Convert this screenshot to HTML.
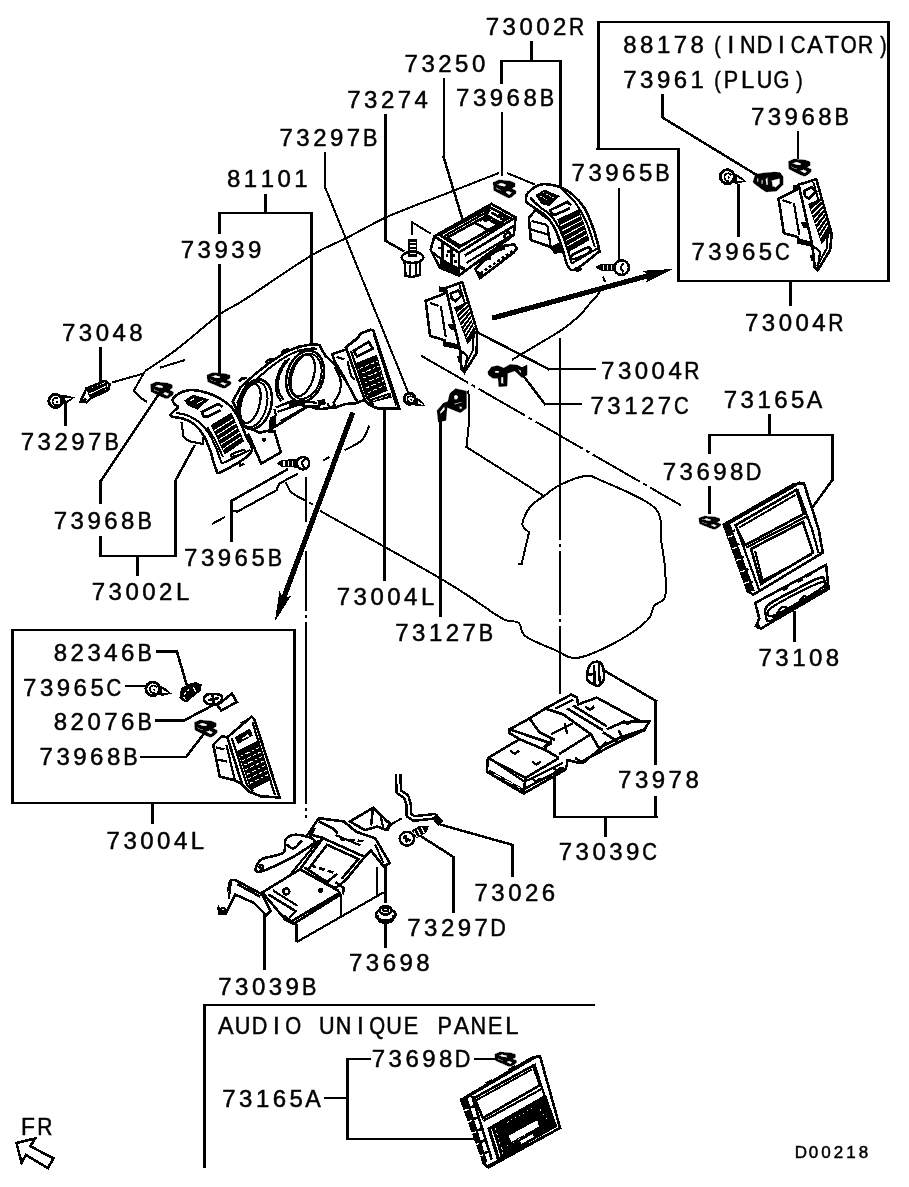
<!DOCTYPE html>
<html><head><meta charset="utf-8"><title>D00218</title>
<style>html,body{margin:0;padding:0;background:#fff}svg{display:block;filter:grayscale(1)}text{font-family:"Liberation Sans",sans-serif;fill:#000;text-anchor:middle;stroke:#000;stroke-width:0.5px}.k{stroke:#000;fill:none;stroke-width:2.6;stroke-linecap:butt;stroke-linejoin:miter}.m{stroke:#000;fill:none;stroke-width:2.2}.t{stroke:#000;fill:none;stroke-width:2}.w{fill:#fff}.b{fill:#000;stroke:none}</style></head><body>
<svg width="909" height="1187" viewBox="0 0 909 1187" shape-rendering="crispEdges">
<rect width="909" height="1187" fill="#fff"/>
<!-- 05_thin.py -->
<g id="thin"><path class="t" d="M145.0 371.0C150.2 367.5 163.6 359.3 175.9 350.0C188.2 340.7 207.5 323.3 218.8 315.0C230.2 306.7 228.6 309.9 244.0 300.0C259.4 290.1 293.9 266.0 311.2 255.6C328.4 245.2 334.7 244.0 347.5 237.5C360.3 231.0 372.6 223.4 388.0 216.5C403.4 209.6 421.5 203.2 440.0 196.0C458.5 188.8 489.0 176.8 498.8 173.0" />
<path class="t" d="M507 173L535 184.5" />
<path class="t" d="M145 371L133.7 390.8L141 398L147 402" />
<path class="t" d="M112 382.5L142 374" />
<path class="t" d="M160 367.7L185 360" />
<path class="t" d="M601.0 288.0C600.5 289.1 599.5 292.4 598.0 294.5C596.5 296.6 595.3 297.1 592.3 300.5C589.3 303.9 584.9 310.2 580.0 315.0C575.1 319.8 568.8 324.8 563.0 329.0C557.2 333.2 553.8 334.9 545.3 340.0C536.8 345.1 517.5 356.5 512.0 359.8" />
<path class="t" d="M421.3 355.8L680.8 505.2" stroke-dasharray="54 4 4 4"/>
<path class="t" d="M559.8 337.7L559.8 694" stroke-width="1.8" stroke-dasharray="202 4 3 4 64 4 3 4 200"/>
<path class="t" d="M306 477L306 521.8" />
<path class="t" d="M306 550.9L306 818" stroke-dasharray="60 4 3 4 182 4 3 4 6"/>
<path class="t" d="M465.6 446.5L543.9 496" />
<path class="t" d="M543.9 496.0C546.6 494.2 553.1 488.3 560.0 485.0C566.9 481.7 578.3 476.8 585.0 476.0C591.7 475.2 588.4 474.7 600.0 480.0C611.6 485.3 644.2 497.6 654.4 507.6C664.6 517.6 659.2 529.8 661.0 540.0C662.8 550.2 664.3 559.1 665.0 568.6C665.7 578.1 666.8 590.5 665.0 596.7C663.2 602.9 656.9 602.1 654.0 606.0C651.1 609.9 653.5 614.1 647.8 619.8C642.1 625.5 631.5 633.7 620.0 640.0C608.5 646.3 589.3 656.0 578.5 657.7C567.7 659.4 563.8 653.6 555.0 650.0C546.2 646.4 531.7 640.8 525.7 636.3C519.7 631.8 521.8 625.6 519.0 623.0C516.2 620.4 512.5 622.0 509.0 620.8C505.5 619.6 509.0 622.8 498.0 616.0C487.0 609.2 472.7 597.5 443.0 580.0C413.3 562.5 340.5 522.3 320.0 510.8" />
<path class="t" d="M543.9 496.0C541.6 497.8 533.6 502.3 530.0 507.0C526.4 511.7 522.6 519.8 522.4 524.0C522.2 528.2 527.9 530.9 529.0 532.3" />
<path class="t" d="M529 532.3L521.7 563.7L518 564" />
<path class="t" d="M468.4 390.5C468.5 395.4 469.3 410.6 469.0 420.0C468.7 429.4 466.9 442.2 466.5 446.6" />
<path class="t" d="M466.5 446.6L465.6 446.5" />
<path class="t" d="M285.8 482.2C286.7 483.8 288.4 489.3 291.0 492.0C293.6 494.7 299.8 497.5 301.6 498.6" />
<path class="t" d="M301.6 498.6L313.5 504.7" stroke-dasharray="5 3"/>
<path class="t" d="M211.9 524L225 517" />
<path class="t" d="M322.8 460.6L329.4 457" />
<path class="t" d="M369.3 425.6C368.1 428.0 366.1 435.9 362.0 440.0C357.9 444.1 347.4 448.7 344.5 450.4" /></g>
<!-- 10_leaders.svg -->
<g id="leaders" fill="#000" shape-rendering="crispEdges">
<rect x="264" y="194" width="3" height="20"/>
<rect x="218" y="212" width="3" height="22"/>
<rect x="218" y="212" width="95" height="2"/>
<rect x="310" y="212" width="3" height="134"/>
<rect x="218" y="264" width="3" height="109"/>
<rect x="99" y="347" width="3" height="36"/>
<rect x="64" y="403" width="3" height="23"/>
<line x1="158.6" y1="394.3" x2="100.7" y2="481.4" stroke="#000" stroke-width="2.5" stroke-linecap="square"/>
<rect x="99" y="480" width="3" height="24"/>
<rect x="99" y="536" width="3" height="21"/>
<rect x="99" y="555" width="77" height="2"/>
<rect x="174" y="480" width="3" height="77"/>
<line x1="175" y1="481.4" x2="194.3" y2="446" stroke="#000" stroke-width="2.5" stroke-linecap="square"/>
<rect x="136" y="555" width="3" height="21"/>
<rect x="230" y="500" width="3" height="42"/>
<line x1="231" y1="501.2" x2="287" y2="469.6" stroke="#000" stroke-width="2.5" stroke-linecap="square"/>
<rect x="324" y="152" width="2" height="37"/>
<line x1="325.4" y1="188" x2="408" y2="392" stroke="#000" stroke-width="2" stroke-linecap="square"/>
<rect x="384" y="114" width="3" height="128"/>
<line x1="385.5" y1="240.8" x2="403" y2="250.7" stroke="#000" stroke-width="2.5" stroke-linecap="square"/>
<rect x="443" y="78" width="2" height="81"/>
<line x1="443.6" y1="157" x2="462.4" y2="219.3" stroke="#000" stroke-width="2.5" stroke-linecap="square"/>
<rect x="530" y="41" width="3" height="21"/>
<rect x="500" y="60" width="3" height="24"/>
<rect x="500" y="60" width="62" height="2"/>
<rect x="559" y="60" width="3" height="127"/>
<rect x="501" y="112" width="2" height="64"/>
<rect x="618" y="188" width="2" height="73"/>
<rect x="597" y="21" width="3" height="129"/>
<rect x="597" y="21" width="293" height="2"/>
<rect x="887" y="21" width="3" height="261"/>
<rect x="677" y="280" width="213" height="2"/>
<rect x="677" y="148" width="3" height="134"/>
<rect x="596" y="148" width="84" height="2"/>
<rect x="789" y="280" width="3" height="26"/>
<rect x="661" y="94" width="3" height="24"/>
<line x1="662.4" y1="117.5" x2="755" y2="174" stroke="#000" stroke-width="2.5" stroke-linecap="square"/>
<rect x="797" y="131" width="2" height="28"/>
<rect x="737" y="184" width="3" height="53"/>
<line x1="477.3" y1="332.3" x2="548.3" y2="369" stroke="#000" stroke-width="2.5" stroke-linecap="square"/>
<rect x="547" y="368" width="49" height="2"/>
<line x1="522" y1="374" x2="545" y2="404.3" stroke="#000" stroke-width="2.5" stroke-linecap="square"/>
<rect x="544" y="403" width="38" height="2"/>
<rect x="768" y="414" width="3" height="22"/>
<rect x="708" y="434" width="3" height="20"/>
<rect x="708" y="434" width="126" height="2"/>
<rect x="831" y="434" width="3" height="47"/>
<line x1="832.4" y1="479.9" x2="812" y2="508" stroke="#000" stroke-width="2.5" stroke-linecap="square"/>
<rect x="708" y="486" width="3" height="28"/>
<rect x="793" y="611" width="3" height="31"/>
<rect x="383" y="407" width="3" height="174"/>
<rect x="439" y="414" width="3" height="203"/>
<line x1="601.6" y1="669" x2="656" y2="701" stroke="#000" stroke-width="2.5" stroke-linecap="square"/>
<rect x="654" y="700" width="3" height="65"/>
<rect x="654" y="796" width="3" height="22"/>
<rect x="553" y="816" width="105" height="2"/>
<rect x="553" y="771" width="3" height="47"/>
<rect x="604" y="816" width="3" height="21"/>
<line x1="441.5" y1="824.9" x2="512.9" y2="845" stroke="#000" stroke-width="2.5" stroke-linecap="square"/>
<rect x="511" y="844" width="3" height="33"/>
<line x1="420.6" y1="836" x2="453.5" y2="857" stroke="#000" stroke-width="2.5" stroke-linecap="square"/>
<rect x="452" y="856" width="3" height="57"/>
<rect x="384" y="919" width="3" height="29"/>
<rect x="263" y="909" width="3" height="61"/>
<rect x="11" y="629" width="285" height="2"/>
<rect x="293" y="629" width="3" height="175"/>
<rect x="11" y="802" width="285" height="2"/>
<rect x="11" y="629" width="3" height="175"/>
<rect x="151" y="802" width="3" height="22"/>
<rect x="203" y="1004" width="3" height="164"/>
<rect x="203" y="1004" width="392" height="2"/>
<rect x="324" y="1097" width="25" height="2"/>
<rect x="346" y="1058" width="25" height="2"/>
<rect x="346" y="1058" width="3" height="82"/>
<rect x="346" y="1138" width="133" height="2"/>
<rect x="474" y="1058" width="23" height="2"/>
</g>
<!-- 20_arrows.py -->
<g id="arrows"><path class="b" d="M492.8 320.7L647.5 278.6L645.6 282.9L672.9 269.0L642.3 270.8L646.2 273.6L491.4 315.7Z"/>
<path class="b" d="M350.4 411.5L281.8 595.4L279.4 591.3L274.8 621.6L291.1 595.7L286.7 597.2L355.2 413.3Z"/>
<path class="k" stroke-width="2.3" d="M16.5 1142.9L35.2 1138.5L30.3 1146.2L53.4 1158.3L47.9 1168.2L25.9 1155L21.5 1162.7Z"/></g>
<!-- 30_leftvent.py -->
<g id="leftvent"><path class="m w" d="M181.5 422.2L183.6 437.2L189.3 441.2L202.9 444.1L203.6 437.2" />
<path class="k w" d="M172.9 398.6C174.3 396.6 179.6 393.1 182.9 391.7C186.2 390.3 188.9 389.8 192.9 390.0C196.9 390.2 202.7 391.5 207.2 392.9C211.7 394.3 216.0 396.2 220.1 398.6C224.2 401.0 228.4 403.9 231.5 407.2C234.6 410.5 236.3 413.8 238.7 418.6C241.1 423.4 243.8 430.1 245.8 435.8C247.8 441.5 254.9 446.7 250.8 452.7C246.8 458.7 227.3 469.1 221.5 471.8C215.7 474.5 217.7 472.3 215.8 468.7C213.9 465.1 212.2 455.8 210.1 450.1C207.9 444.4 205.5 438.7 202.9 434.4C200.3 430.1 197.6 426.9 194.3 424.3C191.0 421.7 186.8 420.0 182.9 418.6C179.0 417.2 172.1 417.4 170.7 416.1C169.3 414.8 173.0 412.3 174.3 410.8C175.6 409.3 178.3 408.4 178.3 407.2C178.3 406.0 175.2 405.0 174.3 403.6C173.4 402.2 171.5 400.6 172.9 398.6Z" stroke-width="2.2"/>
<path class="m" d="M175.8 412.9C177.9 413.4 184.6 414.1 188.6 415.8C192.6 417.5 196.8 420.0 200.1 422.9C203.4 425.8 206.0 428.8 208.6 432.9C211.2 436.9 213.6 442.1 215.8 447.2C218.0 452.3 220.8 460.9 221.8 463.7" />
<path class="t" d="M221.8 463.7L250.1 450.1" />
<path class="t" d="M207.2 427.2C208.6 429.6 213.2 436.5 215.8 441.5C218.4 446.5 221.8 454.6 223.0 457.2" />
<path class="b" d="M210.8 425.1L231.5 412.6L244.1 441.2L224.7 454.7Z" />
<path class="" d="M214.4 430.7L233.5 418.8" stroke="#fff" stroke-width="1.1"/>
<path class="" d="M216.6 435.3L235.4 423.3" stroke="#fff" stroke-width="1.1"/>
<path class="" d="M218.8 439.9L237.4 427.8" stroke="#fff" stroke-width="1.1"/>
<path class="" d="M221 444.5L239.4 432.3" stroke="#fff" stroke-width="1.1"/>
<path class="" d="M223.2 449.1L241.3 436.7" stroke="#fff" stroke-width="1.1"/>
<path class="b" d="M184.1 400.7L192.9 394.6L208.9 399.3L197.9 409.8L188.6 406Z" />
<path class="" d="M190.1 400.7L194.3 398.6" stroke="#fff" stroke-width="1"/>
<path class="" d="M197.2 403.6L202.9 400.7" stroke="#fff" stroke-width="1"/>
<path class="k" d="M222.7 406.9L217.9 404L201.8 412.2L203.6 416.5L207.5 416.9L220.8 410.3" stroke-linejoin="round" stroke-width="2.6"/>
<path class="m" d="M231.5 454.4C233.2 453.3 240.9 450.4 243.0 450.1C245.1 449.8 245.8 451.6 244.1 452.7C242.4 453.8 235.1 456.4 233.0 456.7C230.9 457.0 229.8 455.5 231.5 454.4Z" />
<path class="m" d="M238.7 461.5L240.1 465.5L244.4 463.7" /></g>
<!-- 31_meter.py -->
<g id="meter"><path class="k w" d="M248.1 433.6L261.2 463.6L280.8 452.4L274.6 431.7L268.1 431.3" stroke-width="2.2"/>
<circle class="b" cx="264.3" cy="439.7" r="2.2"/>
<path class="k w" d="M232.7 401.5L240.4 387.4L255.8 373.5L271.2 361.5L286.6 351.6L298.9 346.7L311.2 344.5L319.3 344.9L325.1 355.3L335.9 365.8L348.2 384.3L357.8 403.1L345.1 404L335.9 407.4L318.9 409.2L308.2 406.2L275.8 426.2L268.1 430.8L258.9 432.8L249.6 427.4L240.4 416.6Z" stroke-width="2.2"/>
<path class="k" d="M239.2 381.5L241.9 378.4L246.6 378.1" />
<path class="k" d="M265.4 363L268.1 359.9L272.7 359.6" />
<path class="k" d="M281.5 353L284.3 349.9L288.9 349.6" />
<path class="k" d="M296.2 349.2L298.9 346.1L303.5 345.8" />
<path class="m" d="M289.7 358.1C288.4 359.9 283.9 365.0 282.0 368.9C280.1 372.8 278.6 377.3 278.1 381.2C277.6 385.1 278.0 388.9 278.9 392.0C279.8 395.1 282.7 398.4 283.5 399.7" />
<path class="m" d="M275.8 407.4C278.1 406.6 284.8 403.6 289.7 402.8C294.6 402.0 302.5 402.8 305.1 402.8" />
<ellipse class="k w" cx="305.1" cy="376.3" rx="18.2" ry="26.2" transform="rotate(17 305.1 376.3)" />
<ellipse class="t" cx="305.4" cy="376.3" rx="15.4" ry="23.1" transform="rotate(17 305.4 376.3)" />
<ellipse class="m" cx="302.8" cy="375.4" rx="10.8" ry="21.6" transform="rotate(17 302.8 375.4)" />
<ellipse class="k w" cx="255.0" cy="404.3" rx="16.2" ry="25.4" transform="rotate(15 255.0 404.3)" />
<ellipse class="t" cx="253.5" cy="404.6" rx="13.1" ry="23.1" transform="rotate(15 253.5 404.6)" />
<ellipse class="m" cx="250.4" cy="403.5" rx="9.2" ry="20.0" transform="rotate(15 250.4 403.5)" />
<path class="m" d="M285.8 360.4C284.6 362.3 280.6 368.0 278.9 372.0C277.2 376.0 276.1 380.4 275.8 384.3C275.6 388.2 276.5 392.3 277.4 395.1C278.3 397.9 280.6 400.2 281.2 401.2" />
<path class="b" d="M269.7 417.4L276.6 415.1L275.8 427.4L268.9 428.9Z" />
<path class="b" d="M289.7 402.8L297.4 401.2L294.3 407.4L288.9 408.9Z" />
<path class="b" d="M317.4 400.5L325.1 398.9L325.9 404.3L318.9 406.2Z" />
<path class="m" d="M237.0 403.5C238.2 401.3 240.8 394.4 244.3 390.1C247.8 385.8 253.4 381.9 258.1 377.8C262.8 373.8 267.5 369.5 272.4 365.8C277.3 362.1 282.9 358.3 287.4 355.8C291.9 353.3 295.2 351.9 299.2 350.7C303.2 349.5 308.2 348.9 311.2 348.6C314.2 348.3 316.4 348.8 317.4 348.9" />
<path class="m" d="M334.7 367.0C335.7 369.1 339.7 375.5 340.5 379.7C341.3 383.9 340.8 388.1 339.7 392.0C338.6 395.9 334.6 401.0 333.6 402.8" />
<path class="m" d="M275.8 407.4L292.8 400.5L317.4 402.8" />
<path class="m" d="M277.4 412L297.4 405.1L320.5 406.6" />
<path class="m" d="M271.2 427.4L275.8 415.1L274.3 408.9" />
<path class="t" d="M280.4 421.2L305.1 407.4" />
<rect class="b" x="319.7" y="399.7" width="4.5" height="4.5"/>
<path class="m" d="M327.4 403.5L329.7 407.4L335.1 405.8L332.8 401.5" /></g>
<!-- 32_vent4L.py -->
<g id="vent4L"><path class="k w" d="M346.8 349.2L332.3 354L334.7 361.3L343.2 375.8L357.7 402.4L364.9 400" stroke-width="2.2"/>
<path class="m" d="M336.5 356.7L344.4 359.5" />
<path class="m" d="M347.4 361.3L351 375.8L354.6 379.5" />
<path class="k" d="M364.9 400.0C365.7 400.9 367.6 403.7 369.8 405.1C372.0 406.5 376.8 407.9 378.2 408.5" stroke-width="2.2"/>
<path class="k w" d="M378.2 408.5L399.4 408.7L373.4 330.4L370.4 329.8L360.1 333.7L360.1 335.9L345.6 347.4L346.8 349.8L364.9 400" stroke-width="2.2"/>
<path class="k w" d="M378.2 408.5L399.4 408.7L373.4 330.4L370.4 329.8L360.1 333.7L357.7 338.3L345.6 347.4L346.8 349.8L364.9 400L369.8 405.1Z" stroke-width="2.2"/>
<path class="t" d="M374 335.3L396.4 405.5" />
<path class="m" d="M351 351L367.4 398.8L373.4 404.9" />
<path class="k" d="M354 350.7L368.6 341.9L372.8 348.6L357.1 356.7Z" stroke-linejoin="round" stroke-width="2.4"/>
<path class="b" d="M356.2 362.8L376.8 354.8L387.7 390.6L368.8 399.1Z" />
<path class="" d="M359.9 368.4L378.2 361.1" stroke="#fff" stroke-width="1" stroke-dasharray="3 2 5 2"/>
<path class="" d="M361.6 373.2L379.6 365.9" stroke="#fff" stroke-width="1" stroke-dasharray="3 2 5 2"/>
<path class="" d="M363.2 378.1L381 370.7" stroke="#fff" stroke-width="1" stroke-dasharray="3 2 5 2"/>
<path class="" d="M364.8 383L382.5 375.6" stroke="#fff" stroke-width="1" stroke-dasharray="3 2 5 2"/>
<path class="" d="M366.5 387.9L383.9 380.4" stroke="#fff" stroke-width="1" stroke-dasharray="3 2 5 2"/>
<path class="" d="M368.1 392.7L385.3 385.3" stroke="#fff" stroke-width="1" stroke-dasharray="3 2 5 2"/>
<path class="b" d="M369.8 399.4L390.3 392.5L391.6 397.6L371 402.7Z" />
<path class="" d="M373.4 400.6L387.9 395.8" stroke="#fff" stroke-width="0.9" stroke-dasharray="4 2"/></g>
<!-- 33_display.py -->
<g id="display"><path class="k w" d="M475.2 269L490.1 255.6L503.4 245.9L513.8 244.5L517.1 248.2L513.8 252.6L480 278.2Z" stroke-width="2.7"/>
<path class="k" d="M480.4 273.4L512.3 251.1" stroke-width="2.6" stroke-dasharray="3 2.2"/>
<path class="k" d="M487.1 254.1L504.9 248.2" />
<path class="b" d="M475.9 269.7L479.7 277.9L484.1 274.2Z" />
<path class="b" d="M484.1 260.1L490.1 254.9L491.5 260.1Z" />
<path class="k w" d="M434.4 236.3L491.5 203.9L515.6 217.3L513.8 234.8L458.9 275.6L439.6 267.5L430.6 249.7Z" stroke-width="2.7"/>
<path class="k" d="M434.4 236.3L458.9 252.6L515.6 217.3" stroke-width="3"/>
<path class="k" d="M458.9 252.6L458.9 275.6" stroke-width="2.7"/>
<path class="m" d="M442.5 242.2L442.5 267.5" />
<path class="m" d="M432.1 251.9L442.5 260.1L458.9 269" />
<path class="m" d="M451.4 248.2L451.4 271.9" />
<path class="b" d="M439.6 258.6L439.6 267.5L458.9 275.6L458.9 267.5L444 260.1Z" />
<path class="b" d="M460.3 269L464.8 271.2L464.8 267.5L460.3 265.3Z" />
<path class="k" d="M439.6 234.8L490.1 207.3L509.4 217.7L458.9 247.4Z" stroke-width="2.7"/>
<path class="k" d="M447 237.8L487.1 215.5L501.9 223.7L460.3 245.9Z" stroke-width="2.2"/>
<path class="m" d="M444 236.3L488.6 211" />
<path class="k" d="M475.2 222.9L488.6 230.3" />
<path class="k" d="M484.1 217L499 225.2" />
<path class="k" d="M490.1 209.6L484.1 217L479.7 221.4" stroke-width="3"/>
<path class="b" d="M480.4 219.2L485.6 222.2L490.1 219.2L485.6 216.2Z" />
<path class="k" d="M491.5 212.5L499 217L504.9 214.8L503.4 220.7" />
<path class="k" d="M499 214L501.9 220" />
<path class="k" d="M464.8 255.6L513.8 225.9" />
<path class="m" d="M466.3 263L512.3 234.8" />
<path class="m" d="M472.2 266L499 249.7" />
<rect class="b" x="464.1" y="242.2" width="2.6" height="2.6"/>
<rect class="b" x="478.9" y="233.6" width="2.6" height="2.6"/>
<rect class="b" x="438.1" y="246.7" width="2.6" height="2.6"/>
<rect class="b" x="447.0" y="250.4" width="2.6" height="2.6"/>
<rect class="b" x="452.2" y="254.1" width="2.6" height="2.6"/>
<rect class="b" x="504.2" y="217.0" width="2.6" height="2.6"/>
<rect class="b" x="454.4" y="260.1" width="2.6" height="2.6"/>
<rect class="b" x="445.5" y="254.1" width="2.6" height="2.6"/>
<path class="k" d="M504.9 234.8C505.5 233.6 508.6 232.1 509.4 232.6C510.2 233.1 510.3 236.6 509.7 237.8C509.1 239.0 506.4 240.5 505.6 240.0C504.8 239.5 504.3 236.0 504.9 234.8Z" />
<path class="k w" d="M404.7 261.5L405.4 275.6L412.1 277.1L420 274.9L420.2 261.5Z" stroke-width="2.7"/>
<path class="m" d="M409.9 264.5L410.1 276.4" />
<path class="m" d="M415.8 264.2L415.8 276.1" />
<ellipse class="k w" cx="412.5" cy="257.4" rx="10.8" ry="5.6" stroke-width="2.7"/>
<path class="b" d="M407.6 239.3L417.3 239.3L417.3 256.8L407.6 256.8Z" />
<path class="" d="M409.9 242.2L415.5 242.2" stroke="#fff" stroke-width="1.2"/>
<path class="" d="M409.9 245.9L415.5 245.9" stroke="#fff" stroke-width="1.2"/>
<path class="" d="M409.9 249.7L415.5 249.7" stroke="#fff" stroke-width="1.2"/>
<path class="" d="M409.9 253.4L415.5 253.4" stroke="#fff" stroke-width="1.2"/>
<path class="t" d="M412.1 234.8L412.1 222.2L430.6 233.6" /></g>
<!-- 34_vent2R.py -->
<g id="vent2R"><path class="k w" d="M535.6 209.9L528.8 218.1L530.8 240.1L550.8 247L554.9 252.5L564.5 251.1L556.3 225Z" stroke-width="2.7"/>
<path class="m" d="M531.5 220.9L547.3 225" />
<path class="m" d="M530.1 229.1L548 234.6" />
<path class="m" d="M547.3 225L550.8 247" />
<path class="b" d="M550.8 247L554.9 252.5L564.5 251.1L560.4 241.5Z" />
<path class="k w" d="M526.0 199.6C526.1 197.9 525.6 195.2 528.1 192.7C530.6 190.2 535.7 185.3 541.1 184.4C546.5 183.5 555.1 185.5 560.4 187.2C565.7 188.9 568.9 191.5 572.8 194.8C576.7 198.1 580.6 202.1 583.8 207.1C587.0 212.1 589.4 217.9 592.0 225.0C594.6 232.1 598.3 245.2 599.2 249.8C600.1 254.4 601.5 249.6 597.5 252.8C593.5 256.1 580.4 267.1 575.5 269.3C570.6 271.6 570.0 269.3 567.9 266.3C565.8 263.3 565.0 256.8 563.1 251.1C561.2 245.4 558.8 237.4 556.3 231.9C553.8 226.4 551.5 222.0 548.0 218.1C544.5 214.2 539.0 211.0 535.6 208.5C532.2 206.0 529.0 204.5 527.4 203.0C525.8 201.5 525.9 201.3 526.0 199.6Z" stroke-width="2.7"/>
<path class="m" d="M530.1 197.5C531.5 198.9 535.0 202.8 538.4 205.8C541.8 208.8 547.4 211.7 550.8 215.4C554.2 219.1 556.5 223.0 559.0 227.8C561.5 232.6 563.8 238.4 565.9 244.3C568.0 250.2 570.7 260.3 571.7 263.5" />
<path class="t" d="M571.7 263.5L597.5 248.4" />
<path class="t" d="M561.8 188.6C564.1 191.0 571.4 197.4 575.5 203.0C579.6 208.6 583.3 215.0 586.5 222.3C589.7 229.6 593.4 242.9 594.8 247.0" />
<path class="b" d="M557.4 219.5L578.9 208.9L589.5 240.1L568.6 252.1Z" />
<path class="" d="M560.5 225.6L580.2 215.6" stroke="#fff" stroke-width="1.1"/>
<path class="" d="M562.3 230.7L581.9 220.4" stroke="#fff" stroke-width="1.1"/>
<path class="" d="M564 235.7L583.6 225.1" stroke="#fff" stroke-width="1.1"/>
<path class="" d="M565.8 240.8L585.2 229.9" stroke="#fff" stroke-width="1.1"/>
<path class="" d="M567.6 245.8L586.9 234.7" stroke="#fff" stroke-width="1.1"/>
<path class="b" d="M535.4 194.8L544.6 189.7L560 196.1L549.4 206L541.1 204Z" />
<path class="" d="M539.8 196.1L546.6 199.6" stroke="#fff" stroke-width="0.9" stroke-dasharray="2 1.5"/>
<path class="" d="M542.5 192.7L553.5 197.5" stroke="#fff" stroke-width="0.9" stroke-dasharray="2 1.5"/>
<path class="k" d="M571.1 205.1L567.3 201.9L550.1 210.2L551.9 214.3L555.6 214.7L570 208.2" stroke-linejoin="round" stroke-width="2.6"/>
<path class="k" d="M571.7 255.5C574.0 253.6 584.9 248.2 587.9 247.7C590.9 247.1 591.8 250.3 589.5 252.2C587.2 254.1 577.4 258.6 574.4 259.1C571.4 259.7 569.5 257.4 571.7 255.5Z" />
<path class="m" d="M575.5 266.9L576.9 271.1L580.7 269.3L579.6 266.3" />
<path class="b" d="M594.8 266.9L601.6 263.5L616.8 263.5L616.8 271.5L601.6 271.1Z" />
<path class="" d="M603 264.9L603 270.1" stroke="#fff" stroke-width="0.9"/>
<path class="" d="M607.1 264.9L607.1 270.1" stroke="#fff" stroke-width="0.9"/>
<path class="" d="M611.3 264.9L611.3 270.1" stroke="#fff" stroke-width="0.9"/>
<circle class="k w" cx="621.6" cy="267.6" r="7.3" stroke-width="2.7"/>
<path class="m" d="M623.6 263.5C623.1 264.2 620.9 266.1 620.9 267.6C620.9 269.1 623.1 271.6 623.6 272.4" />
<path class="t" d="M603 276.6L605.1 282.1" /></g>
<!-- 35_vent4R.py -->
<g id="vent4R"><path class="k w" d="M442.9 294.3L425.7 300.8L430 335.9L444.4 340.2L444.4 345.2L460.8 348.7L447.2 290Z" stroke-width="2.7"/>
<path class="m" d="M430 302.9L438.6 305.8" />
<path class="m" d="M440.8 305.8L445.8 337.3" />
<path class="b" d="M443.6 340.9L444.4 345.2L460.4 348.5L458.7 344.4Z" />
<path class="b" d="M438.6 286L445.8 287.9L444.4 292.9L439.3 291.5Z" />
<path class="b" d="M447.9 324.4L452.9 324.4L454.4 330.1L450.1 329.4Z" />
<path class="b" d="M457.2 355.9L461.3 355.9L461.8 363.1L458 362.3Z" />
<path class="k w" d="M445.8 287.9L462.3 282.2L477.3 331.6L476.6 353L464.4 372.4L461.5 368.8L460.1 350.2Z" stroke-width="2.7"/>
<path class="t" d="M459.4 285L473.7 333L473 350.2L463.7 368.8" />
<path class="m" d="M460.1 350.2L467.3 355.9L465.1 370.2" />
<path class="k" d="M450.8 293.6L458 290.5L461.8 295.5L455.5 301.1L451.8 298.6Z" stroke-linejoin="round"/>
<path class="b" d="M454.1 307.5L466.5 301.9L476.1 333L467.6 344.7Z" />
<path class="" d="M457.1 313.5L467.2 304.3" stroke="#fff" stroke-width="1.2"/>
<path class="" d="M458.6 317.6L468.4 307.8" stroke="#fff" stroke-width="1.2"/>
<path class="" d="M460.2 321.7L469.5 311.2" stroke="#fff" stroke-width="1.2"/>
<path class="" d="M461.8 325.8L470.6 314.7" stroke="#fff" stroke-width="1.2"/>
<path class="" d="M463.3 329.9L471.8 318.2" stroke="#fff" stroke-width="1.2"/>
<path class="" d="M464.9 334.1L472.9 321.7" stroke="#fff" stroke-width="1.2"/>
<path class="" d="M466.4 338.2L474 325.2" stroke="#fff" stroke-width="1.2"/>
<path d="M488.1 371.9L491.7 367.1L497.8 365.9L503.8 368.3L509.9 364.7L517.1 365.3L522 367.7L526.8 365.3L526.8 375L522 377.4L514.7 370.7L507.4 373.2L506.8 385.9L499 386.5L498.4 378L492.9 378L488.7 375ZM494.7 370.5L499.2 370.5L499.2 373.2L494.7 373.2ZM500.8 376.8L503.5 376.8L503.5 383.6L500.8 383.6ZM517.4 368.6L521.5 370.7L521 374.1Z" fill="#000" fill-rule="evenodd" stroke="#000" stroke-width="0.8" stroke-linejoin="round"/>
<path d="M437.3 410.7L443.3 403.4L448.2 401.6L450 393.7L455.4 388.9L466.3 391.3L466.3 408.2L460.3 412.5L454.2 410.1L446.9 407L445.7 420.3L438.5 421.6ZM453.6 396.1L456 394.3L458.7 396.7L457.2 399.8L454.2 399.5ZM459.4 406.4L462.1 406.4L462.1 409.1L459.4 409.1ZM439.7 411.9L444.5 405.8L445.1 409.5L440.3 414.5ZM439.7 417.9L442.1 417.9L442.1 420.3L439.7 420.3ZM454.2 403.4L461.5 401.6L461.7 402.8L454.8 404.9Z" fill="#000" fill-rule="evenodd" stroke="#000" stroke-width="0.8" stroke-linejoin="round"/></g>
<!-- 36_boxR.py -->
<g id="boxR"><path class="k w" d="M793.2 191.6L778.5 198.5L783.9 233.2L797.8 237L797.8 242.4L812.9 245.8L800.1 187Z" stroke-width="2.7"/>
<path class="m" d="M782.4 200.1L791.6 203.1" />
<path class="m" d="M793.9 203.1L799.3 234.7" />
<path class="b" d="M797 237.8L797.8 242.4L812.9 245.8L810.9 241.6Z" />
<path class="b" d="M792.4 184.7L799 185.7L797.8 190.8L793.2 190.4Z" />
<path class="b" d="M800.9 222.4L806.3 222.4L807.8 228.5L803.2 227.8Z" />
<path class="b" d="M810.1 254.7L813.5 254.7L814.1 261.7L810.9 260.9Z" />
<path class="k w" d="M798.6 184.7L816.3 179.3L831.7 233.9L830.1 250.1L817.8 270.1L814.7 267L812.4 245.5Z" stroke-width="2.7"/>
<path class="t" d="M813.2 181.6L827.8 234.7L826.6 248.6L817 266.3" />
<path class="m" d="M812.4 245.5L820.1 251.6L817.8 268.6" />
<path class="k" d="M803.9 190.8L811.6 187.4L815.8 191.6L808.9 198.8L805 196.2Z" stroke-linejoin="round"/>
<path class="b" d="M808.3 203.9L820.9 198.2L830.4 233.2L821.7 244.3Z" />
<path class="" d="M811.1 210.3L821.4 200.9" stroke="#fff" stroke-width="1.2"/>
<path class="" d="M812.6 214.8L822.5 204.9" stroke="#fff" stroke-width="1.2"/>
<path class="" d="M814.2 219.4L823.7 208.8" stroke="#fff" stroke-width="1.2"/>
<path class="" d="M815.8 223.9L824.8 212.8" stroke="#fff" stroke-width="1.2"/>
<path class="" d="M817.4 228.5L826 216.7" stroke="#fff" stroke-width="1.2"/>
<path class="" d="M819 233L827.1 220.7" stroke="#fff" stroke-width="1.2"/>
<path class="" d="M820.5 237.6L828.2 224.6" stroke="#fff" stroke-width="1.2"/></g>
<!-- 37_panel.py -->
<g id="panel"><path class="k w" d="M723.8 524.5L794 484.1L803.9 483.3L811.3 506.4L818.7 529.5L822.8 552.6L753.5 594.6L747.8 591.3Z" stroke-width="2.7"/>
<path class="b" d="M722.7 524.8L729.9 522.9L739.5 549.3L754.7 590.5L748.1 591.8Z" />
<path class="" d="M727.6 537.4L732.6 535.7" stroke="#fff" stroke-width="1.2"/>
<path class="" d="M731.7 548.9L736.7 547.3" stroke="#fff" stroke-width="1.2"/>
<path class="" d="M735.9 560.5L740.8 558.8" stroke="#fff" stroke-width="1.2"/>
<path class="" d="M740 572L745 570.4" stroke="#fff" stroke-width="1.2"/>
<path class="" d="M744.1 583.6L749.1 581.9" stroke="#fff" stroke-width="1.2"/>
<path class="m" d="M735.4 524.5L759 589.7" />
<path class="m" d="M730.9 531.8L734.9 530.4" />
<path class="m" d="M735.5 545L739.5 543.6" />
<path class="m" d="M740.2 558.2L744.1 556.8" />
<path class="m" d="M744.6 570.5L748.6 569.2" />
<path class="m" d="M749.1 582.9L753 581.6" />
<path class="t" d="M728.8 523.7L795.6 485.7" />
<path class="m" d="M797.3 489L812.1 529.5L818.7 553.4" />
<path class="k" d="M749.4 509.7L756 506" stroke-width="3.5"/>
<path class="k" d="M770.9 497.3L777.5 493.6" stroke-width="3.5"/>
<path class="k" d="M794 485.7L800.6 482.1" stroke-width="3.5"/>
<path class="k" d="M735.4 525.3L796.4 489.9L803.9 513.8L745.3 545.1Z" stroke-width="2.7"/>
<path class="t" d="M738.7 527.8L795.6 494.8" />
<path class="m" d="M746.1 547.6L805.5 517.1L808.8 518.2" />
<path class="k" d="M751.1 548.9L803 522L812.9 552.6L761 583.9Z" stroke-width="2.7"/>
<path class="m" d="M755.2 550.9L762.6 580.6" />
<path class="t" d="M762.6 580.6L812.1 554.2" />
<path class="k w" d="M755.2 602.9L826.1 564.9L828.6 588.9L761 628.5L756 626L759.3 618.6Z" stroke-width="2.7"/>
<path class="k" d="M767.6 605.4C772.0 601.4 783.8 595.8 792.3 591.3C800.8 586.8 813.3 579.9 818.7 578.1C824.1 576.3 823.7 578.5 824.5 580.6C825.3 582.7 828.2 586.2 823.7 590.5C819.2 594.8 806.1 601.1 797.3 606.2C788.5 611.3 776.1 619.5 770.9 621.0C765.7 622.5 766.4 617.9 765.9 615.3C765.4 612.7 763.2 609.4 767.6 605.4Z" stroke-width="2.7"/>
<path class="m" d="M772.5 607.0C779.9 601.6 810.7 586.1 818.7 583.1C826.7 580.1 827.8 583.5 820.4 588.9C813.0 594.3 782.2 612.3 774.2 615.3C766.2 618.3 765.1 612.4 772.5 607.0Z" />
<path class="k" d="M772.5 618.2L824 589.7" stroke-width="4"/>
<path class="k" d="M782.4 590.2L788.2 587.2" stroke-width="3"/>
<path class="k" d="M797.3 581.9L803 579" stroke-width="3"/>
<path class="k" d="M805.5 577L811.3 574" stroke-width="3"/>
<circle class="b" cx="757.7" cy="626.5" r="2.3"/>
<path class="m" d="M775.8 615.3C776.9 613.9 780.2 608.1 782.4 607.0C784.6 605.9 787.9 608.4 789.0 608.7" />
<path class="m" d="M798.9 602.1C799.7 601.1 802.2 597.0 803.9 596.3C805.5 595.6 808.0 597.6 808.8 597.9" /></g>
<!-- 38_brkC.py -->
<g id="brkC"><path class="k w" d="M487.9 758L519.6 739.2L509.7 733.2L509.7 729.3L529.5 718.4L545.3 708.5L571.1 694.6L577 697.6L578 704.5L596.8 697.6L640.4 721.3L649.3 721.3L644.4 730.2L618.6 742.1L579 762.9L567.1 760L567.1 764.9L565.1 769.9L523.6 793.6L486.9 771.8Z" stroke-width="2.7"/>
<path class="k" d="M487.9 758L525.5 777.8L559.2 758" stroke-width="2.7"/>
<path class="k" d="M525.5 777.8L523.6 793.6" />
<path class="k" d="M519.6 739.2L545.3 750L559.2 758" />
<path class="m" d="M491.9 760L524.6 781.7L563.2 762.9" />
<path class="k" d="M488.9 770.8L522.6 789.7L564.2 767.9" stroke-width="3"/>
<path class="" d="M493.9 773.8L519.6 787.7" stroke="#fff" stroke-width="1" stroke-dasharray="8 5"/>
<path class="k" d="M509.7 729.3L529.5 736.2L547.3 742.1L545.3 750" />
<path class="k" d="M529.5 718.4L539.4 732.2L555.2 740.1" />
<path class="k" d="M545.3 708.5L563.2 714.4L590.9 734.2L559.2 754" />
<path class="m" d="M555.2 708.5L573.1 699.6" />
<path class="k" d="M567.1 708.5L602.8 730.2" stroke-width="2.7"/>
<path class="k" d="M573.1 705.5L606.7 726.3" />
<path class="m" d="M551.3 734.2L573.1 723.3" />
<path class="m" d="M565.1 723.3L567.1 734.2" />
<path class="k" d="M543.4 747.1L550.3 744.1L551.3 738.2" />
<path class="k" d="M606.7 729.3L622.6 722.3L640.4 721.3" />
<path class="k" d="M602.8 732.2L618.6 742.1" />
<path class="k" d="M590.9 734.2L598.8 748.1L618.6 738.2L644.4 729.3" />
<path class="k" d="M575 758L583 762.9L598.8 750L606.7 742.1" stroke-width="3"/>
<path class="k" d="M618.6 730.2L622.6 738.2L630.5 734.2" />
<path class="k" d="M510.3 750.4C511.0 750.9 513.2 753.6 514.7 753.6C516.2 753.6 518.3 750.9 519.0 750.4" />
<path class="k" d="M532.1 761.3C532.8 761.8 535.0 764.5 536.4 764.5C537.8 764.5 540.1 761.8 540.8 761.3" />
<path class="k" d="M585.5 706.5C586.2 707.0 588.4 709.7 589.9 709.7C591.4 709.7 593.6 707.0 594.3 706.5" />
<path class="k" d="M623.2 720.7C623.9 721.2 626.0 723.9 627.5 723.9C629.0 723.9 631.2 721.2 631.9 720.7" />
<path class="k" d="M552.9 767.3C553.6 767.8 555.8 770.4 557.2 770.4C558.7 770.4 560.9 767.8 561.6 767.3" />
<path class="k" d="M532.1 778.2C532.8 778.7 535.0 781.3 536.4 781.3C537.8 781.3 540.1 778.7 540.8 778.2" />
<path class="k w" d="M590.9 663.9C592.9 661.8 596.8 661.4 598.8 661.9C600.8 662.4 602.0 664.1 602.8 666.9C603.6 669.7 604.5 675.7 603.8 678.8C603.1 681.9 600.4 684.7 598.8 685.7C597.1 686.7 595.7 685.5 593.9 684.7C592.1 683.9 589.1 682.4 587.9 680.7C586.7 679.1 586.4 677.6 586.9 674.8C587.4 672.0 588.9 666.0 590.9 663.9Z" stroke-width="2.7"/>
<path class="k" d="M593.9 664.9L594.9 684.7" />
<path class="k" d="M587.9 674.8L593.9 673.8" />
<path class="m" d="M598.8 662.9L599.8 684.7" /></g>
<!-- 39_brkB.py -->
<g id="brkB"><path class="k" d="M264.3 913.3L264.3 936.3" />
<path class="k" d="M296.7 923.8L296.7 942" />
<path class="m" d="M340.6 894.5L340.6 916.5" />
<path class="m" d="M377.2 867.3L377.2 895.6" />
<path class="k" d="M385.2 866.3L385.2 902.9" />
<path class="m" d="M296.7 942L383.5 892.4" />
<path class="k" d="M218.4 907.1C219.8 905.7 224.8 902.9 226.7 898.7C228.6 894.5 228.5 885.1 229.9 882.0C231.3 878.9 234.2 880.2 235.1 879.9" stroke-width="2.7"/>
<path class="k w" d="M235.1 879.9L262.3 894.5L270.6 911.2L266.4 915.4L253.9 902.9L235.1 894.5L230.9 902.9L225.7 913.3L219.4 913.3L218.4 907.1" stroke-width="2.7"/>
<path class="m" d="M230.9 882L228.8 898.7" />
<path class="k" d="M237.2 884.1L260.2 896.6" stroke-width="3"/>
<circle class="m" cx="223.0" cy="909.6" r="2"/>
<path class="k w" d="M256.0 867.3C256.9 865.2 257.8 861.4 262.3 859.0C266.8 856.6 279.4 855.8 283.2 852.7C287.0 849.6 283.6 843.2 285.3 840.2C287.0 837.2 289.8 835.4 293.6 834.9C297.4 834.4 304.7 835.8 308.2 837.0C311.7 838.2 315.9 839.7 314.5 842.3C313.1 844.9 304.1 849.9 299.9 852.7C295.7 855.5 295.3 856.0 289.4 859.0C283.5 862.0 269.7 868.4 264.3 870.5C258.9 872.6 258.4 872.0 257.0 871.5C255.6 871.0 255.1 869.4 256.0 867.3Z" stroke-width="2.7"/>
<path class="k" d="M286.3 844.3C287.5 845.0 291.0 849.2 293.6 848.5C296.2 847.8 300.6 841.6 302.0 840.2" />
<circle class="m" cx="261.2" cy="866.9" r="1.8"/>
<path class="k w" d="M350.1 821.4L373 807.8L389.8 823.4L386.6 830.1L377.2 826.6L364.7 830.1Z" stroke-width="2.7"/>
<path class="k" d="M373 808.8L371 825.5" />
<path class="m" d="M380.4 815.1L383.5 828.7" />
<path class="k" d="M384.5 819.3L390.8 824.5L387.3 830.1" stroke-width="3.5"/>
<path class="k w" d="M308.2 833.9L318.7 818.2L343.8 821.4L356.3 831.8L375.1 838.1L389.8 863.2L383.5 866.3L371 850.6L364.7 856.9L322.9 838.1Z" stroke-width="2.7"/>
<path class="k" d="M318.7 821.4C321.1 822.6 330.2 826.6 333.3 828.7C336.4 830.8 336.8 833.0 337.5 833.9" />
<path class="k" d="M314.5 827.6L310.3 837" />
<path class="m" d="M375.1 844.3L383.5 863.2" />
<path class="k" d="M339.6 839.1L363.6 841.2" stroke-width="3.5" stroke-dasharray="6 3"/>
<path class="m" d="M335.4 834.9L360.5 845.4" />
<path class="k w" d="M299.9 869.4L322.9 838.1L364.7 856.9L345.9 879.9L335.4 888.2Z" stroke-width="2.7"/>
<path class="k" d="M308.2 869.4L327.1 844.8L358.4 859L341.7 878.8" />
<path class="m" d="M279 888.2L318.7 840.2" />
<path class="k" d="M345.9 879.9L364.7 856.9" stroke-width="3.5"/>
<path class="k" d="M310.3 865.3L333.3 872.6" stroke-width="3.5" stroke-dasharray="6 3"/>
<path class="k" d="M304.1 867.3L327.1 882L337.5 873.6" />
<path class="k w" d="M262.3 892.4L299.9 869.4L337.5 890.3L340.6 894.5L293.6 923.8L285.3 919.6Z" stroke-width="2.7"/>
<path class="k" d="M268.5 894.5L295.7 911.2L289.4 917.5" />
<path class="m" d="M272.7 890.3L297.8 906" />
<path class="k" d="M292.6 920.6L339.6 892.8" stroke-width="4"/>
<path class="" d="M293.6 917.9L335.4 893.5" stroke="#fff" stroke-width="0.8" stroke-dasharray="2 2"/>
<path class="k" d="M283.2 915.4L293.6 922.7" stroke-width="4"/>
<circle class="k" cx="286.3" cy="891.4" r="3"/>
<circle class="b" cx="320.8" cy="890.3" r="2.6"/>
<path class="k" d="M335.4 882L343.8 888.2L342.7 894.5" stroke-width="3.5"/>
<ellipse class="k w" cx="385.6" cy="914.8" rx="9.8" ry="6" stroke-width="2.7"/>
<ellipse class="k w" cx="385.6" cy="910.3" rx="6" ry="4.2" stroke-width="2.7"/>
<ellipse class="m" cx="385.6" cy="909.8" rx="2.6" ry="1.6"/>
<path class="k" d="M377.2 915.4C377.7 916.5 378.1 920.7 380.4 921.7C382.7 922.8 388.6 922.8 390.8 921.7C393.1 920.7 393.4 916.5 393.9 915.4" /></g>
<!-- 40_small.py -->
<g id="small"><path d="M398.4 774.3L398.6 791.4L406.3 796.9L408.5 804L408.7 815L414 818.5L434.4 816.3L441 823.3" fill="none" stroke="#000" stroke-width="7" stroke-linejoin="round"/>
<path d="M398.4 774.3L398.6 791.4L406.3 796.9L408.5 804L408.7 815L414 818.5L434.4 816.3L441 823.3" fill="none" stroke="#fff" stroke-width="2" stroke-linejoin="round"/>
<path class="b" d="M434.9 813.9L442.6 820.5L440.4 826L433.8 819.4Z" />
<path class="t" d="M392 823.8L401.9 818.3" />
<path class="b" d="M411.8 830.4L419.5 825.8L428.9 825.5L427.2 831.5L421.7 835.9L416.2 838.1Z" />
<path class="" d="M414 831.5L417.3 837" stroke="#fff" stroke-width="1.2"/>
<path class="" d="M417.3 829.3L420.6 835.4" stroke="#fff" stroke-width="1.2"/>
<path class="" d="M421.2 827.3L424.5 833.2" stroke="#fff" stroke-width="1.2"/>
<ellipse class="k w" cx="406.9" cy="838.7" rx="7.2" ry="6.8" stroke-width="3.2"/>
<path class="k" d="M403 837L410.7 840.9" />
<path class="k" d="M405.2 834.8L406.9 842.5" />
<path class="k w" d="M80.9 400.7L86.5 388.4L105 380.9L109.6 384.2L108.3 389.8L90.8 398.3L86.5 402.3Z" stroke-width="2.7"/>
<path class="b" d="M86.5 389.8L106.3 382.5L107.6 388.4L89.8 397.7Z" />
<path class="" d="M89.1 394.1L105.6 386.5" stroke="#fff" stroke-width="1"/>
<path class="k" d="M79.2 402.3L86.5 399" stroke-width="3"/>
<path class="b" d="M276.6 463.2L281.8 459.8L298.2 459L298.2 467.7L281.8 466.9Z" />
<path class="" d="M284 460.6L284 466.4" stroke="#fff" stroke-width="1.1"/>
<path class="" d="M288.4 460.6L288.4 466.4" stroke="#fff" stroke-width="1.1"/>
<path class="" d="M292.9 460.6L292.9 466.4" stroke="#fff" stroke-width="1.1"/>
<circle class="k w" cx="303.0" cy="463.2" r="6.2" stroke-width="2.7"/>
<path class="m" d="M305.1 459.0C304.5 459.7 301.7 461.7 301.7 463.2C301.7 464.7 304.5 467.2 305.1 468.0" />
<path class="m" d="M230.9 501.3L230.9 510L237 511.8L276.6 490.2L279.2 483.6L297.7 473.8" /></g>
<!-- 41_boxL.py -->
<g id="boxL"><path class="k" d="M156.2 651.2L176.8 651.2L187 685.8" />
<path class="k" d="M125 685.8L146 685.8" />
<path class="k" d="M155.2 720.4L184.2 720.4L212.3 705.5" />
<path class="k" d="M140.3 756.9L186.1 756.9L204.8 732.6" />
<path class="b" d="M179.3 697.8L181.1 688.2L188.4 683.9L195.7 682.1L201.7 684.5L201.1 690.6L192 697.8L187.2 702.7L181.7 700.3Z" />
<path class="" d="M184.2 694.2L190.8 688.2" stroke="#fff" stroke-width="1.2" stroke-dasharray="2.5 2"/>
<path class="" d="M193.2 686.9L195.7 691.8" stroke="#fff" stroke-width="1.2"/>
<path class="" d="M183.6 696.6L185.4 699.6" stroke="#fff" stroke-width="1.2"/>
<path class="k w" d="M227.3 737.3L221.6 736.3L213.2 744.7L219.8 776.5L234.7 780.3L242.2 784.4Z" stroke-width="2.7"/>
<path class="m" d="M216 747.5L224.4 749.4" />
<path class="m" d="M217.9 759.7L227.3 761.6" />
<path class="m" d="M226.3 744.7L234.7 779.3" />
<path class="b" d="M240.3 722.3L251.6 716.7L242.2 725.1Z" />
<path class="k w" d="M227.3 737.3L251.6 716.7L254.4 719.5L279.6 797.5L260.9 796.3L249.7 791.9L242.2 784.4Z" stroke-width="2.7"/>
<path class="m" d="M252.5 722.3L274.9 795.2" />
<path class="m" d="M231.9 738.2L246.9 784.9L253.4 791.5" />
<path class="b" d="M234.7 737.3L249.7 728.5L252.9 735.4L237.9 744.2Z" />
<path class="w" d="M240.7 739.5L248.2 733.9L249.3 736.5Z" />
<path class="b" d="M237.2 750.7L258.1 740.6L270.6 780.3L250.6 790Z" />
<path class="" d="M240.6 756.3L259.2 747.4" stroke="#fff" stroke-width="1" stroke-dasharray="3 2 5 2"/>
<path class="" d="M242.2 760.8L260.6 752" stroke="#fff" stroke-width="1" stroke-dasharray="3 2 5 2"/>
<path class="" d="M243.7 765.3L262.1 756.5" stroke="#fff" stroke-width="1" stroke-dasharray="3 2 5 2"/>
<path class="" d="M245.3 769.8L263.5 761.1" stroke="#fff" stroke-width="1" stroke-dasharray="3 2 5 2"/>
<path class="" d="M246.9 774.3L265 765.7" stroke="#fff" stroke-width="1" stroke-dasharray="3 2 5 2"/>
<path class="" d="M248.4 778.8L266.4 770.2" stroke="#fff" stroke-width="1" stroke-dasharray="3 2 5 2"/>
<path class="" d="M250 783.3L267.9 774.8" stroke="#fff" stroke-width="1" stroke-dasharray="3 2 5 2"/></g>
<!-- 42_audio.py -->
<g id="audio"><path class="k w" d="M464.3 1097.9L531.5 1057.9L540.1 1056.5L560.1 1128L487.2 1166.6L482.9 1160.9Z" stroke-width="2.6"/>
<path class="b" d="M459.3 1098.6L467.2 1096.8L487.2 1161.6L482.9 1163.7Z" />
<path class="" d="M464.3 1110.5L468.6 1109.1" stroke="#fff" stroke-width="1.4"/>
<path class="" d="M467.9 1122L472.2 1120.5" stroke="#fff" stroke-width="1.4"/>
<path class="" d="M471.5 1133.4L475.8 1132" stroke="#fff" stroke-width="1.4"/>
<path class="" d="M475 1144.8L479.3 1143.4" stroke="#fff" stroke-width="1.4"/>
<path class="" d="M478.6 1156.3L482.9 1154.9" stroke="#fff" stroke-width="1.4"/>
<path class="k" d="M472.2 1096.2L491.8 1159.7" />
<path class="k" d="M470 1107.4L474.6 1105.9" />
<path class="k" d="M473.6 1118.8L478.2 1117.4" />
<path class="k" d="M477.2 1130.3L481.8 1128.8" />
<path class="k" d="M480.8 1141.7L485.3 1140.3" />
<path class="k" d="M484.3 1153.1L488.9 1151.7" />
<path class="k" d="M465.7 1097.9L533 1058.6" stroke-width="3"/>
<path class="m" d="M534.4 1063.6L554.4 1128" />
<path class="k" d="M482.9 1163L488.6 1167.3L558.7 1128.7" stroke-width="3.2"/>
<path class="k" d="M474.3 1097.9L533 1065.7L540.1 1085.1L482.9 1118Z" stroke-width="2.6"/>
<path class="t" d="M476.5 1100.1L532.2 1069.3" />
<path class="m" d="M483.6 1120.8L542.3 1088.6" />
<path class="k" d="M485.8 1083.6L492.2 1080.2" stroke-width="3.5"/>
<path class="k" d="M508.6 1070L515.1 1066.6" stroke-width="3.5"/>
<path class="k" d="M531.5 1059.3L538 1055.9" stroke-width="3.5"/>
<path class="b" d="M487.2 1128L545.8 1094.4L557.3 1126.5L497.2 1160.9Z" />
<path class="w" d="M508.6 1135.8L537.3 1120.1L539 1126.5L511.5 1141.8Z" />
<path class="w" d="M520.1 1141.1L533 1134L533.8 1136.8L521.5 1144Z" />
<path class="" d="M491.5 1129.4L500.1 1156.6" stroke="#fff" stroke-width="1.2"/>
<path class="" d="M495.1 1128L502.9 1153.7" stroke="#fff" stroke-width="0.9" stroke-dasharray="2 3"/>
<path class="" d="M507.2 1122.2L533 1107.9" stroke="#fff" stroke-width="0.9" stroke-dasharray="1.5 3"/>
<path class="" d="M540.1 1109.4L548.7 1120.8" stroke="#fff" stroke-width="0.9" stroke-dasharray="1.5 4"/>
<path class="" d="M501.5 1149.4L525.8 1135.1" stroke="#fff" stroke-width="0.9" stroke-dasharray="1.5 5"/></g>
<!-- 50_clips.py -->
<g id="clips"><path d="M493.3 182.6L498.8 180.1L509.8 181.2L514.8 183.1L514.8 186.4L511.5 188.6L515.9 190.8L515.6 193.6L510.9 197.4L508.2 197.7L502.7 195.0L493.9 190.3ZM496.9 184.5L501.0 182.6L506.0 184.2L505.4 186.7L501.6 186.4ZM496.1 187.0L497.7 188.6L501.6 190.0L501.0 190.8L496.6 189.2ZM505.1 191.9L508.2 190.8L512.0 192.5L509.8 195.2L507.1 193.9Z" fill="#000" fill-rule="evenodd" stroke="#000" stroke-width="0.6" stroke-linejoin="round"/>
<path d="M207.2 375.0L213.0 372.9L224.5 373.8L229.8 375.4L229.8 378.3L226.3 380.1L230.9 382.0L230.6 384.4L225.7 387.6L222.8 387.9L217.1 385.6L207.8 381.6ZM211.0 376.6L215.3 375.0L220.5 376.4L219.9 378.5L215.9 378.3ZM210.1 378.8L211.8 380.1L215.9 381.3L215.3 382.0L210.7 380.6ZM219.6 382.9L222.8 382.0L226.8 383.4L224.5 385.7L221.7 384.6Z" fill="#000" fill-rule="evenodd" stroke="#000" stroke-width="0.6" stroke-linejoin="round"/>
<path d="M150.7 384.5L156.2 382.2L167.2 383.2L172.2 385.0L172.2 388.0L168.9 390.0L173.3 392.0L173.0 394.6L168.3 398.1L165.6 398.4L160.1 395.9L151.3 391.6ZM154.3 386.2L158.4 384.5L163.4 386.0L162.8 388.3L159.0 388.0ZM153.5 388.5L155.1 390.0L159.0 391.3L158.4 392.0L154.0 390.6ZM162.5 393.1L165.6 392.0L169.4 393.6L167.2 396.1L164.5 394.9Z" fill="#000" fill-rule="evenodd" stroke="#000" stroke-width="0.6" stroke-linejoin="round"/>
<path d="M788.5 161.6L794.0 159.2L805.0 160.2L810.0 162.0L810.0 165.2L806.7 167.3L811.1 169.4L810.8 172.0L806.1 175.6L803.4 175.9L797.9 173.4L789.1 168.9ZM792.1 163.4L796.2 161.6L801.2 163.1L800.6 165.5L796.8 165.2ZM791.3 165.8L792.9 167.3L796.8 168.6L796.2 169.4L791.8 167.8ZM800.3 170.4L803.4 169.4L807.2 171.0L805.0 173.5L802.3 172.3Z" fill="#000" fill-rule="evenodd" stroke="#000" stroke-width="0.6" stroke-linejoin="round"/>
<path d="M699.1 518.1L704.3 516.3L714.8 517.1L719.5 518.5L719.5 520.8L716.4 522.4L720.6 524.0L720.3 526.0L715.8 528.8L713.3 529.0L708.0 527.0L699.7 523.6ZM702.5 519.5L706.4 518.1L711.2 519.3L710.6 521.1L707.0 520.8ZM701.8 521.3L703.3 522.4L707.0 523.4L706.4 524.0L702.2 522.9ZM710.3 524.8L713.3 524.0L716.9 525.2L714.8 527.2L712.2 526.2Z" fill="#000" fill-rule="evenodd" stroke="#000" stroke-width="0.6" stroke-linejoin="round"/>
<path d="M194.5 722.6L200.0 720.2L211.0 721.2L216.0 723.1L216.0 726.2L212.7 728.3L217.1 730.4L216.8 733.0L212.1 736.6L209.4 736.9L203.9 734.4L195.1 729.9ZM198.1 724.4L202.2 722.6L207.2 724.1L206.6 726.5L202.8 726.2ZM197.3 726.8L198.9 728.3L202.8 729.6L202.2 730.4L197.8 728.8ZM206.3 731.4L209.4 730.4L213.2 732.0L211.0 734.5L208.3 733.3Z" fill="#000" fill-rule="evenodd" stroke="#000" stroke-width="0.6" stroke-linejoin="round"/>
<path class="k w" d="M217.4 705.1L232 693.6L236.8 702.1L221.1 710.5Z" stroke-width="2.4" stroke-linejoin="round"/>
<path class="k w" d="M204.1 699.6C203.9 698.1 204.8 695.7 206.6 694.8C208.4 693.9 212.5 693.8 215.0 694.0C217.5 694.2 220.7 694.9 221.7 696.0C222.7 697.1 222.2 699.5 221.1 700.9C220.0 702.3 217.2 704.0 215.0 704.5C212.8 705.0 209.6 704.7 207.8 703.9C206.0 703.1 204.3 701.1 204.1 699.6Z" stroke-width="3.6"/>
<path class="k" d="M207.8 700.3L218.7 698.1" stroke-width="3.4"/>
<path class="k" d="M212.6 694.8L213.8 703.9" />
<path d="M495.0 1054.2L500.2 1052.2L510.7 1053.1L515.4 1054.6L515.4 1057.2L512.3 1059.0L516.5 1060.8L516.2 1063.0L511.7 1066.0L509.2 1066.3L503.9 1064.1L495.6 1060.4ZM498.4 1055.7L502.3 1054.2L507.1 1055.5L506.5 1057.5L502.9 1057.2ZM497.7 1057.7L499.2 1059.0L502.9 1060.1L502.3 1060.8L498.1 1059.5ZM506.2 1061.6L509.2 1060.8L512.8 1062.1L510.7 1064.3L508.1 1063.2Z" fill="#000" fill-rule="evenodd" stroke="#000" stroke-width="0.6" stroke-linejoin="round"/></g>
<!-- 51_grommets.py -->
<g id="grommets"><path class="b" d="M733.9 173.3L739.0 175.3L746.4 181.4L737.7 183.7L731.4 183.2Z" stroke="#000" stroke-width="1" stroke-linejoin="round"/>
<path class="w" d="M737.0 177.2L743.1 180.6L737.1 181.3Z"/>
<circle cx="727.3" cy="176.7" r="7.0" fill="#fff" stroke="#000" stroke-width="2.9"/>
<circle cx="728.1" cy="177.2" r="3.8" fill="none" stroke="#000" stroke-width="1.7" stroke-dasharray="16.7 7.2" transform="rotate(72 728.1 177.2)"/>
<circle class="b" cx="728.7" cy="177.5" r="1.1"/>
<path class="b" d="M159.1 685.5L164.4 687.5L171.7 693.5L163.1 695.7L156.7 695.1Z" stroke="#000" stroke-width="1" stroke-linejoin="round"/>
<path class="w" d="M162.4 689.4L168.5 692.7L162.5 693.3Z"/>
<circle cx="152.7" cy="688.8" r="6.8" fill="#fff" stroke="#000" stroke-width="2.9"/>
<circle cx="153.5" cy="689.3" r="3.7" fill="none" stroke="#000" stroke-width="1.7" stroke-dasharray="16.3 7.0" transform="rotate(72 153.5 689.3)"/>
<circle class="b" cx="154.1" cy="689.6" r="1.1"/>
<path class="b" d="M59.8 395.5L65.6 395.2L74.6 397.5L67.7 402.9L61.4 405.0Z" stroke="#000" stroke-width="1" stroke-linejoin="round"/>
<path class="w" d="M64.5 397.6L71.4 398.1L66.2 401.1Z"/>
<circle cx="55.4" cy="401.0" r="6.6" fill="#fff" stroke="#000" stroke-width="2.9"/>
<circle cx="56.2" cy="401.5" r="3.6" fill="none" stroke="#000" stroke-width="1.7" stroke-dasharray="15.8 6.8" transform="rotate(48 56.2 401.5)"/>
<circle class="b" cx="56.8" cy="401.8" r="1.1"/>
<path class="b" d="M415.5 397.0L420.2 399.7L425.6 405.9L418.0 406.3L412.1 404.6Z" stroke="#000" stroke-width="1" stroke-linejoin="round"/>
<path class="w" d="M418.2 400.9L423.1 404.7L417.8 404.2Z"/>
<circle cx="409.7" cy="398.8" r="5.6" fill="#fff" stroke="#000" stroke-width="2.9"/>
<circle cx="410.5" cy="399.3" r="3.1" fill="none" stroke="#000" stroke-width="1.7" stroke-dasharray="13.6 5.9" transform="rotate(82 410.5 399.3)"/>
<circle class="b" cx="411.1" cy="399.6" r="1.1"/>
<path d="M753.3 181.6L755.5 174.5L764.3 173.2L774.9 172.3L780.1 172.8L782.8 176.7L782.8 184.6L776.6 190.8L766.1 191.7L760.8 188.2L753.7 182.9ZM756.8 178L758.6 178L758.6 182L756.8 182ZM761.2 179.8L763 179.5L763 184.2L761.2 184.2ZM765.2 178.9L767.8 177.2L768.3 185.1L766.1 185.5ZM771.3 180.2L780.1 178L780.1 183.8L775.7 187.7L772.2 186.4Z" fill="#000" fill-rule="evenodd" stroke="#000" stroke-width="0.8" stroke-linejoin="round"/></g>
<g id="labels">
<text y="34.6" font-size="24"><tspan x="492.5 509.3 526.2 543.0 559.8">73002</tspan><tspan x="576.6" textLength="15.2" lengthAdjust="spacingAndGlyphs">R</tspan></text>
<text y="72.0" font-size="24"><tspan x="411.3 428.1 445.0 461.8 478.6">73250</tspan></text>
<text y="108.3" font-size="24"><tspan x="353.9 370.7 387.6 404.4 421.2">73274</tspan></text>
<text y="146.2" font-size="24"><tspan x="286.2 303.0 319.9 336.7 353.5">73297</tspan><tspan x="370.3" textLength="14.4" lengthAdjust="spacingAndGlyphs">B</tspan></text>
<text y="187.0" font-size="24"><tspan x="233.7 250.5 267.4 284.2 301.0">81101</tspan></text>
<text y="258.3" font-size="24"><tspan x="187.5 204.3 221.2 238.0 254.8">73939</tspan></text>
<text y="340.8" font-size="24"><tspan x="68.7 85.5 102.4 119.2 136.0">73048</tspan></text>
<text y="450.2" font-size="24"><tspan x="27.5 44.3 61.2 78.0 94.8">73297</tspan><tspan x="111.6" textLength="14.4" lengthAdjust="spacingAndGlyphs">B</tspan></text>
<text y="529.2" font-size="24"><tspan x="60.5 77.3 94.2 111.0 127.8">73968</tspan><tspan x="144.6" textLength="14.4" lengthAdjust="spacingAndGlyphs">B</tspan></text>
<text y="600.2" font-size="24"><tspan x="98.4 115.2 132.1 148.9 165.7">73002</tspan><tspan x="182.6" textLength="13.3" lengthAdjust="spacingAndGlyphs">L</tspan></text>
<text y="566.2" font-size="24"><tspan x="190.8 207.6 224.5 241.3 258.1">73965</tspan><tspan x="274.9" textLength="14.4" lengthAdjust="spacingAndGlyphs">B</tspan></text>
<text y="605.0" font-size="24"><tspan x="343.5 360.3 377.2 394.0 410.8">73004</tspan><tspan x="427.6" textLength="13.3" lengthAdjust="spacingAndGlyphs">L</tspan></text>
<text y="641.4" font-size="24"><tspan x="401.9 418.7 435.6 452.4 469.2">73127</tspan><tspan x="486.0" textLength="14.4" lengthAdjust="spacingAndGlyphs">B</tspan></text>
<text y="106.3" font-size="24"><tspan x="462.8 479.6 496.5 513.3 530.1">73968</tspan><tspan x="547.0" textLength="14.4" lengthAdjust="spacingAndGlyphs">B</tspan></text>
<text y="180.9" font-size="24"><tspan x="578.3 595.1 612.0 628.8 645.6">73965</tspan><tspan x="662.4" textLength="14.4" lengthAdjust="spacingAndGlyphs">B</tspan></text>
<text y="52.8" font-size="24"><tspan x="629.9 646.7 663.6 680.4 697.2">88178</tspan><tspan x="717.5" textLength="6.4" lengthAdjust="spacingAndGlyphs">(</tspan><tspan x="730.9" textLength="6.7" lengthAdjust="spacingAndGlyphs">I</tspan><tspan x="747.7" textLength="15.6" lengthAdjust="spacingAndGlyphs">N</tspan><tspan x="764.5" textLength="15.6" lengthAdjust="spacingAndGlyphs">D</tspan><tspan x="781.4" textLength="6.7" lengthAdjust="spacingAndGlyphs">I</tspan><tspan x="798.2" textLength="14.7" lengthAdjust="spacingAndGlyphs">C</tspan><tspan x="815.0" textLength="15.5" lengthAdjust="spacingAndGlyphs">A</tspan><tspan x="831.9" textLength="14.2" lengthAdjust="spacingAndGlyphs">T</tspan><tspan x="848.7" textLength="15.9" lengthAdjust="spacingAndGlyphs">O</tspan><tspan x="865.5" textLength="15.2" lengthAdjust="spacingAndGlyphs">R</tspan><tspan x="883.5" textLength="6.4" lengthAdjust="spacingAndGlyphs">)</tspan></text>
<text y="87.5" font-size="24"><tspan x="629.9 646.7 663.6 680.4 697.2">73961</tspan><tspan x="717.5" textLength="6.4" lengthAdjust="spacingAndGlyphs">(</tspan><tspan x="730.9" textLength="14.4" lengthAdjust="spacingAndGlyphs">P</tspan><tspan x="747.7" textLength="13.3" lengthAdjust="spacingAndGlyphs">L</tspan><tspan x="764.5" textLength="15.6" lengthAdjust="spacingAndGlyphs">U</tspan><tspan x="781.4" textLength="15.9" lengthAdjust="spacingAndGlyphs">G</tspan><tspan x="799.4" textLength="6.4" lengthAdjust="spacingAndGlyphs">)</tspan></text>
<text y="125.4" font-size="24"><tspan x="757.6 774.4 791.3 808.1 824.9">73968</tspan><tspan x="841.8" textLength="14.4" lengthAdjust="spacingAndGlyphs">B</tspan></text>
<text y="260.4" font-size="24"><tspan x="698.2 715.0 731.9 748.7 765.5">73965</tspan><tspan x="782.4" textLength="14.7" lengthAdjust="spacingAndGlyphs">C</tspan></text>
<text y="330.7" font-size="24"><tspan x="751.7 768.5 785.4 802.2 819.0">73004</tspan><tspan x="835.9" textLength="15.2" lengthAdjust="spacingAndGlyphs">R</tspan></text>
<text y="379.2" font-size="24"><tspan x="607.8 624.6 641.5 658.3 675.1">73004</tspan><tspan x="691.9" textLength="15.2" lengthAdjust="spacingAndGlyphs">R</tspan></text>
<text y="413.9" font-size="24"><tspan x="597.2 614.0 630.9 647.7 664.5">73127</tspan><tspan x="681.4" textLength="14.7" lengthAdjust="spacingAndGlyphs">C</tspan></text>
<text y="408.3" font-size="24"><tspan x="730.5 747.3 764.2 781.0 797.8">73165</tspan><tspan x="814.6" textLength="15.5" lengthAdjust="spacingAndGlyphs">A</tspan></text>
<text y="479.9" font-size="24"><tspan x="669.5 686.3 703.2 720.0 736.8">73698</tspan><tspan x="753.6" textLength="15.6" lengthAdjust="spacingAndGlyphs">D</tspan></text>
<text y="666.2" font-size="24"><tspan x="765.2 782.0 798.9 815.7 832.5">73108</tspan></text>
<text y="788.4" font-size="24"><tspan x="624.8 641.6 658.5 675.3 692.1">73978</tspan></text>
<text y="860.4" font-size="24"><tspan x="565.4 582.2 599.1 615.9 632.7">73039</tspan><tspan x="649.5" textLength="14.7" lengthAdjust="spacingAndGlyphs">C</tspan></text>
<text y="900.5" font-size="24"><tspan x="481.2 498.0 514.9 531.7 548.5">73026</tspan></text>
<text y="936.0" font-size="24"><tspan x="414.0 430.8 447.7 464.5 481.3">73297</tspan><tspan x="498.1" textLength="15.6" lengthAdjust="spacingAndGlyphs">D</tspan></text>
<text y="970.6" font-size="24"><tspan x="355.7 372.5 389.4 406.2 423.0">73698</tspan></text>
<text y="994.8" font-size="24"><tspan x="225.0 241.8 258.7 275.5 292.3">73039</tspan><tspan x="309.1" textLength="14.4" lengthAdjust="spacingAndGlyphs">B</tspan></text>
<text y="848.6" font-size="24"><tspan x="113.3 130.1 147.0 163.8 180.6">73004</tspan><tspan x="197.4" textLength="13.3" lengthAdjust="spacingAndGlyphs">L</tspan></text>
<text y="661.0" font-size="24"><tspan x="60.5 77.3 94.2 111.0 127.8">82346</tspan><tspan x="144.6" textLength="14.4" lengthAdjust="spacingAndGlyphs">B</tspan></text>
<text y="695.7" font-size="24"><tspan x="29.8 46.6 63.5 80.3 97.1">73965</tspan><tspan x="113.9" textLength="14.7" lengthAdjust="spacingAndGlyphs">C</tspan></text>
<text y="730.4" font-size="24"><tspan x="60.5 77.3 94.2 111.0 127.8">82076</tspan><tspan x="144.6" textLength="14.4" lengthAdjust="spacingAndGlyphs">B</tspan></text>
<text y="765.0" font-size="24"><tspan x="46.3 63.1 80.0 96.8 113.6">73968</tspan><tspan x="130.4" textLength="14.4" lengthAdjust="spacingAndGlyphs">B</tspan></text>
<text y="1033.7" font-size="24"><tspan x="225.8" textLength="15.5" lengthAdjust="spacingAndGlyphs">A</tspan><tspan x="242.6" textLength="15.6" lengthAdjust="spacingAndGlyphs">U</tspan><tspan x="259.5" textLength="15.6" lengthAdjust="spacingAndGlyphs">D</tspan><tspan x="276.3" textLength="6.7" lengthAdjust="spacingAndGlyphs">I</tspan><tspan x="293.1" textLength="15.9" lengthAdjust="spacingAndGlyphs">O</tspan><tspan x="309.9"> </tspan><tspan x="326.8" textLength="15.6" lengthAdjust="spacingAndGlyphs">U</tspan><tspan x="343.6" textLength="15.6" lengthAdjust="spacingAndGlyphs">N</tspan><tspan x="360.4" textLength="6.7" lengthAdjust="spacingAndGlyphs">I</tspan><tspan x="377.3" textLength="15.9" lengthAdjust="spacingAndGlyphs">Q</tspan><tspan x="394.1" textLength="15.6" lengthAdjust="spacingAndGlyphs">U</tspan><tspan x="410.9" textLength="14.4" lengthAdjust="spacingAndGlyphs">E</tspan><tspan x="427.8"> </tspan><tspan x="444.6" textLength="14.4" lengthAdjust="spacingAndGlyphs">P</tspan><tspan x="461.4" textLength="15.5" lengthAdjust="spacingAndGlyphs">A</tspan><tspan x="478.2" textLength="15.6" lengthAdjust="spacingAndGlyphs">N</tspan><tspan x="495.1" textLength="14.4" lengthAdjust="spacingAndGlyphs">E</tspan><tspan x="511.9" textLength="13.3" lengthAdjust="spacingAndGlyphs">L</tspan></text>
<text y="1067.0" font-size="24"><tspan x="378.5 395.3 412.2 429.0 445.8">73698</tspan><tspan x="462.6" textLength="15.6" lengthAdjust="spacingAndGlyphs">D</tspan></text>
<text y="1106.7" font-size="24"><tspan x="228.9 245.7 262.6 279.4 296.2">73165</tspan><tspan x="313.1" textLength="15.5" lengthAdjust="spacingAndGlyphs">A</tspan></text>
<text y="1135.0" font-size="24"><tspan x="28.0" textLength="13.9" lengthAdjust="spacingAndGlyphs">F</tspan><tspan x="44.8" textLength="15.2" lengthAdjust="spacingAndGlyphs">R</tspan></text>
<text y="1157.5" font-size="17"><tspan x="800.9 813.4 825.9 838.4 850.9 863.4">D00218</tspan></text>
</g>
</svg>
</body></html>
